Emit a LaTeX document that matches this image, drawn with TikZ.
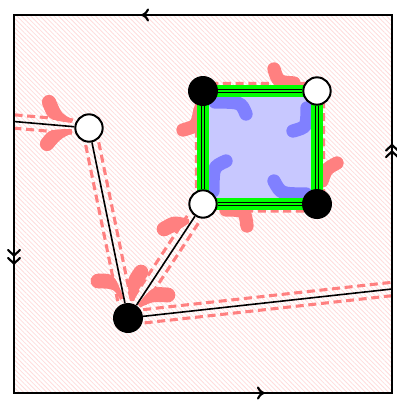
\documentclass[tikz,border=0pt]{standalone}
\usetikzlibrary{calc,patterns.meta}
\definecolor{petalred}{HTML}{FF8080}
\definecolor{petalblue}{HTML}{8080FF}
\definecolor{fillblue}{HTML}{C8C8FF}
\definecolor{hatchpink}{HTML}{FFDCDC}
\pgfdeclarelayer{hatchL}
\pgfdeclarelayer{blueL}
\pgfdeclarelayer{redL}
\pgfdeclarelayer{greenL}
\pgfdeclarelayer{edgeL}
\pgfsetlayers{hatchL,blueL,redL,greenL,edgeL,main}
\tikzset{
 wnode/.style={circle,draw=black,fill=white,line width=1.5pt,minimum size=20.5pt,inner sep=0pt},
 bnode/.style={circle,fill=black,minimum size=22.5pt,inner sep=0pt},
 edgeline/.style={line width=1.2pt},
 reddash/.style={petalred,line width=2.3pt,dash pattern=on 6pt off 3.5pt},
 rpetal/.style={petalred,line width=10pt,line cap=round},
 bpetal/.style={petalblue,line width=10pt,line cap=round},
 greenband/.style={green,line width=8.5pt},
 dbl/.style={line width=1pt,double=green,double distance=0.8pt},
 framestyle/.style={line width=2.2pt},
 chev/.style={line width=1.6pt,line cap=round,line join=round},
}
\newcommand\dashpair[4]{%
 \draw[reddash] ($(#1)!#3!(#2)!5pt!90:(#2)$) -- ($(#2)!#4!(#1)!5pt!-90:(#1)$);
 \draw[reddash] ($(#1)!#3!(#2)!5pt!-90:(#2)$) -- ($(#2)!#4!(#1)!5pt!90:(#1)$);
}
\newcommand\tearpetal[4]{%
 \fill[petalred] ($(#1)!1.5pt!90:(#2)$) .. controls ($(#2)!1.05*#4!90:(#3)$) .. ($(#3)!#4!-90:(#2)$) -- ($(#3)!#4!90:(#2)$) .. controls ($(#2)!1.05*#4!-90:(#3)$) .. ($(#1)!1.5pt!-90:(#2)$) -- cycle;
 \fill[petalred] (#3) circle[radius=#4];
}
\begin{document}
\begin{tikzpicture}[x=0.75pt,y=-0.75pt]
\useasboundingbox (0,0) rectangle (397,401);
% nodes
\node[wnode] (A) at (89,128) {};
\node[bnode] (B) at (203,91) {};
\node[wnode] (C) at (317,91) {};
\node[wnode] (D) at (203,204) {};
\node[bnode] (E) at (317,204) {};
\node[bnode] (F) at (128,318) {};
\coordinate (lft) at (14,121.5);
\coordinate (rgt) at (392,289);
% hatch
\begin{pgfonlayer}{hatchL}
\fill[white] (14,15) rectangle (392,393);
\fill[pattern={Lines[angle=-45,distance=2.45pt,line width=0.6pt]},pattern color=hatchpink] (14,15) rectangle (392,393);
\end{pgfonlayer}
% blue face
\begin{pgfonlayer}{blueL}
\fill[fillblue,rounded corners=4pt] (207,96) rectangle (313,199);
\draw[bpetal] (215,102) .. controls (241,102) .. (246,114);
\draw[bpetal] (307,108) .. controls (307,127) .. (293,131);
\draw[bpetal] (213,191) .. controls (213,167) .. (226,161);
\draw[bpetal] (306,194) .. controls (281,194) .. (274,181);
\end{pgfonlayer}
% red dashes and petals
\begin{pgfonlayer}{redL}
\dashpair{lft}{A}{0pt}{12pt}
\dashpair{A}{F}{12pt}{14pt}
\dashpair{D}{F}{14pt}{14pt}
\dashpair{F}{rgt}{12pt}{0pt}
\draw[reddash,rounded corners=6pt] (196.5,83.5) rectangle (323.5,211);
\tearpetal{72,121}{55,117}{49,102}{5.3pt}
\tearpetal{72,131}{55,134}{47,144}{5.3pt}
\tearpetal{122,299}{114,281}{98,281}{5.5pt}
\tearpetal{132,301}{133,284}{141,272}{5.5pt}
\tearpetal{139,306}{152,294}{168,295}{5.5pt}
\tearpetal{189,221}{177,222}{164,229}{5.5pt}
\draw[rpetal] (200,110) .. controls (197,126) .. (183,130);
\draw[rpetal] (294,83) .. controls (278,82) .. (274,69);
\draw[rpetal] (226,210) .. controls (245,210) .. (247,226);
\draw[rpetal] (322,181) .. controls (326,169) .. (337,163);
\end{pgfonlayer}
% green bands
\begin{pgfonlayer}{greenL}
\draw[greenband] (B.center) -- (C.center) -- (E.center) -- (D.center) -- cycle;
\end{pgfonlayer}
% edges and frame
\begin{pgfonlayer}{edgeL}
\draw[edgeline] (lft) -- (A);
\draw[edgeline] (A) -- (F);
\draw[edgeline] (D) -- (F);
\draw[edgeline] (F) -- (rgt);
\draw[dbl] (B) -- (C);
\draw[dbl] (C) -- (E);
\draw[dbl] (E) -- (D);
\draw[dbl] (D) -- (B);
\draw[framestyle] (14,15) rectangle (392,393);
\draw[chev] (148,9.5) .. controls (146,13) .. (142.5,15) .. controls (146,17) .. (148,20.5);
\draw[chev] (258,387.5) .. controls (260,391) .. (263.5,393) .. controls (260,395) .. (258,398.5);
\draw[chev] (8,250) .. controls (11,252) .. (14,255.5) .. controls (17,252) .. (20,250);
\draw[chev] (8,258) .. controls (11,260) .. (14,263.5) .. controls (17,260) .. (20,258);
\draw[chev] (386,150.5) .. controls (389,148.5) .. (392,145) .. controls (395,148.5) .. (398,150.5);
\draw[chev] (386,157) .. controls (389,155) .. (392,151.5) .. controls (395,155) .. (398,157);
\end{pgfonlayer}
\end{tikzpicture}
\end{document}
